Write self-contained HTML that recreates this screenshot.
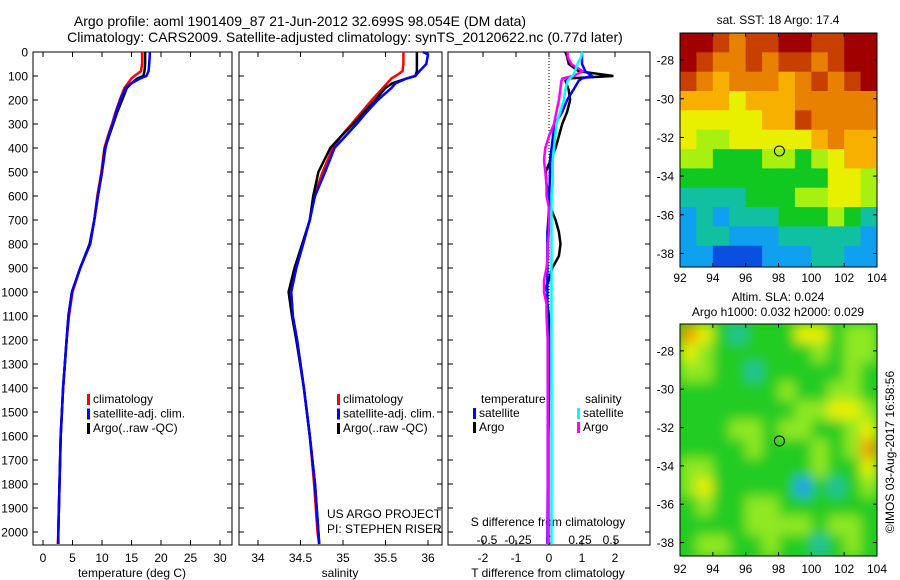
<!DOCTYPE html>
<html><head><meta charset="utf-8">
<style>
html,body{margin:0;padding:0;background:#fff;width:900px;height:580px;overflow:hidden}
svg{display:block;font-family:"Liberation Sans",sans-serif}
</style></head>
<body>
<svg id="fig" width="900" height="580" viewBox="0 0 900 580" xmlns="http://www.w3.org/2000/svg">
<defs>
<filter id="blur" x="-5%" y="-5%" width="110%" height="110%"><feGaussianBlur stdDeviation="6"/></filter>
<clipPath id="clipSla"><rect x="680" y="324" width="197" height="232"/></clipPath>
</defs>
<text x="300" y="26" font-size="14" text-anchor="middle">Argo profile: aoml 1901409_87 21-Jun-2012 32.699S 98.054E (DM data)</text>
<text x="345" y="42" font-size="14" text-anchor="middle">Climatology: CARS2009. Satellite-adjusted climatology: synTS_20120622.nc (0.77d later)</text>
<g id="g"></g>
</svg>
<script>
// ---- data ----
const depths=[0,10,50,80,100,110,130,150,200,250,300,350,400,500,600,700,800,900,1000,1100,1200,1400,1600,1800,2000,2050];
const tempArgo=[17.3,17.3,17.3,17.2,17.0,16.0,15.0,14.2,13.4,12.6,11.9,11.2,10.5,10.0,9.3,8.7,7.9,6.3,4.9,4.3,4.0,3.4,3.0,2.8,2.6,2.6];
const tempSat=[18.1,18.1,18.0,17.9,17.5,16.5,15.0,14.0,13.1,12.4,11.8,11.1,10.6,10.0,9.3,8.7,8.0,6.3,4.9,4.3,4.0,3.4,3.0,2.8,2.6,2.6];
const tempClim=[16.8,16.8,16.8,16.6,15.5,15.0,14.4,13.8,13.0,12.3,11.7,11.0,10.4,9.9,9.2,8.7,8.0,6.3,5.0,4.4,4.0,3.4,3.0,2.8,2.6,2.5];
const salArgo=[35.87,35.87,35.87,35.87,35.85,35.75,35.58,35.50,35.38,35.25,35.12,34.98,34.85,34.71,34.65,34.61,34.52,34.43,34.36,34.40,34.45,34.54,34.61,34.67,34.71,34.72];
const salSat=[35.94,36.0,35.98,35.9,35.85,35.75,35.62,35.57,35.41,35.28,35.16,35.03,34.9,34.79,34.67,34.61,34.53,34.45,34.39,34.41,34.46,34.54,34.61,34.67,34.71,34.72];
const salClim=[35.71,35.71,35.71,35.70,35.62,35.57,35.52,35.47,35.34,35.22,35.10,34.98,34.88,34.76,34.66,34.61,34.53,34.45,34.39,34.41,34.46,34.54,34.61,34.66,34.70,34.72];
const diffDepths=[0,20,50,80,100,110,120,160,200,250,300,350,400,450,500,550,600,650,700,750,800,850,900,950,1000,1050,1100,1200,1400,1600,1800,2000,2050];
const tDiffArgo=[0.5,0.55,0.6,0.9,1.95,0.6,0.5,0.6,0.64,0.55,0.4,0.3,0.2,0.05,-0.1,-0.08,0,0.05,0.2,0.3,0.35,0.3,0.1,0.0,-0.15,-0.05,0,0,0,-0.02,-0.02,-0.02,-0.02];
const tDiffSat=[1.0,1.0,1.0,1.1,1.3,1.0,0.9,0.73,0.55,0.4,0.18,0.12,0.08,0.03,0.03,0.02,0.0,0.0,-0.02,-0.05,-0.05,-0.05,-0.05,-0.05,-0.05,-0.05,-0.05,-0.04,-0.04,-0.04,-0.04,-0.05,-0.05];
const sDiffArgo=[0.15,0.15,0.18,0.27,0.2,0.11,0.1,0.09,0.08,0.06,0.04,0.0,-0.03,-0.04,-0.03,-0.02,-0.02,0,0,0,-0.01,-0.01,-0.02,-0.04,-0.04,-0.02,-0.02,-0.01,-0.01,-0.01,-0.01,-0.01,-0.01];
const sDiffSat=[0.27,0.26,0.23,0.21,0.19,0.17,0.15,0.13,0.12,0.09,0.06,0.05,0.04,0.03,0.03,0.03,0.02,0.02,0.02,0.02,0.02,0.02,0.02,0.02,0.02,0.02,0.02,0.02,0.02,0.02,0.02,0.02,0.02];
const depthTicks=[0,100,200,300,400,500,600,700,800,900,1000,1100,1200,1300,1400,1500,1600,1700,1800,1900,2000];
const tempTicks=[0,5,10,15,20,25,30];
const salTicks=[34,34.5,35,35.5,36];
const salTickLabels=["34","34.5","35","35.5","36"];
const tDiffTicks=[-2,-1,0,1,2];
const sDiffTicks=[-0.5,-0.25,0,0.25,0.5];
const sDiffTickLabels=["-0.5","-0.25","0","0.25","0.5"];
const lonTicks=[92,94,96,98,100,102,104];
const latTicks=[-28,-30,-32,-34,-36,-38];
const argoLon=98.054, argoLat=-32.699;
// SST grid (0=cold..9=warm), rows north->south, 1 deg cells from 92E
const sstGrid=["998788998899","987787887899","876777678789","666566677777","555556687777","544555556766","443334434566","333333333554","222233344554","121222333432","122111222221","110001112211"];
// SLA grid (1=low..6=high)
const slaGrid=["653233355344","543333334344","443323333343","333333433443","333333344554","333443443345","333343334346","443333334335","453333313234","343344333333","333344443443","344334332343"];

// ---- helpers ----
const NS="http://www.w3.org/2000/svg";
const G=document.getElementById('g');
function mk(tag,attrs,parent){const e=document.createElementNS(NS,tag);for(const k in attrs)e.setAttribute(k,attrs[k]);(parent||G).appendChild(e);return e;}
function txt(x,y,s,size,anchor,parent){const e=mk('text',{x:x,y:y,'font-size':size||12,'text-anchor':anchor||'middle'},parent);e.textContent=s;return e;}

const TOP=52, PBOT=545;
function yD(d){return TOP+d*0.24;}
const panels=[
 {name:'temperature-panel',x0:33,x1:232,xs:v=>43+5.9*v},
 {name:'salinity-panel',x0:239,x1:442,xs:v=>258+85*(v-34)},
 {name:'difference-panel',x0:448,x1:650,xs:v=>549+33*v}
];
const sx=v=>549+124*v;

panels.forEach((p,i)=>{
  const grp=mk('g',{});
  
  
  const r=mk('rect',{x:p.x0,y:TOP,width:p.x1-p.x0,height:PBOT-TOP,fill:'none',stroke:'#000','stroke-width':1},grp);
  
  
  depthTicks.forEach(d=>{
    mk('line',{x1:p.x0,x2:p.x0+5,y1:yD(d),y2:yD(d),stroke:'#000'},grp);
    mk('line',{x1:p.x1,x2:p.x1-5,y1:yD(d),y2:yD(d),stroke:'#000'},grp);
  });
});
depthTicks.forEach(d=>{const t=txt(28,yD(d)+4.5,String(d),12,'end');});

function xTicks(p,vals,labels,fn,ly){
  vals.forEach((v,i)=>{
    const x=fn(v);
    mk('line',{x1:x,x2:x,y1:TOP,y2:TOP+5,stroke:'#000'});
    mk('line',{x1:x,x2:x,y1:PBOT,y2:PBOT-5,stroke:'#000'});
    if(labels){const t=txt(x,ly,labels[i],12);}
  });
}
xTicks(panels[0],tempTicks,tempTicks.map(String),panels[0].xs,562);
xTicks(panels[1],salTicks,salTickLabels,panels[1].xs,562);
xTicks(panels[2],tDiffTicks,tDiffTicks.map(String),panels[2].xs,562);
sDiffTicks.forEach((v,i)=>{const t=txt(sx(v),544,sDiffTickLabels[i],12);});

let t;
t=txt(132,577,'temperature (deg C)',12);
t=txt(340,577,'salinity',12);
t=txt(548,577,'T difference from climatology',12);
t=txt(548,526,'S difference from climatology',12);
t=txt(327,518,'US ARGO PROJECT',12,'start');
t=txt(327,533,'PI: STEPHEN RISER',12,'start');

const zl=mk('line',{x1:549,x2:549,y1:TOP,y2:PBOT,stroke:'#000','stroke-dasharray':'1,2'});



function line(ds,vals,fn,color,name){
  const pts=vals.map((v,i)=>fn(v).toFixed(1)+','+yD(ds[i]).toFixed(1)).join(' ');
  const e=mk('polyline',{points:pts,fill:'none',stroke:color,'stroke-width':2.5,'stroke-linejoin':'miter'});
  
  
}
line(depths,tempClim,panels[0].xs,'#f00','temp-climatology-line');
line(depths,tempArgo,panels[0].xs,'#000','temp-argo-line');
line(depths,tempSat,panels[0].xs,'#00f','temp-satellite-line');
line(depths,salClim,panels[1].xs,'#f00','sal-climatology-line');
line(depths,salArgo,panels[1].xs,'#000','sal-argo-line');
line(depths,salSat,panels[1].xs,'#00f','sal-satellite-line');
line(diffDepths,tDiffArgo,panels[2].xs,'#000','t-diff-argo-line');
line(diffDepths,tDiffSat,panels[2].xs,'#00f','t-diff-satellite-line');
line(diffDepths,sDiffArgo,sx,'#f0f','s-diff-argo-line');
line(diffDepths,sDiffSat,sx,'#0ff','s-diff-satellite-line');

function legend(x,y,color,label){
  mk('rect',{x:x,y:y-9,width:3,height:11,fill:color});
  const e=txt(x+6,y,label,12,'start');
  
  
}
[[87,'#f00','climatology'],[87,'#00f','satellite-adj. clim.'],[87,'#000','Argo(..raw -QC)']].forEach((l,i)=>legend(l[0],403+i*14.5,l[1],l[2]));
[[337,'#f00','climatology'],[337,'#00f','satellite-adj. clim.'],[337,'#000','Argo(..raw -QC)']].forEach((l,i)=>legend(l[0],403+i*14.5,l[1],l[2]));
t=txt(481,403,'temperature',12,'start');
t=txt(585,403,'salinity',12,'start');
legend(473,417,'#00f','satellite');legend(473,431,'#000','Argo');
legend(577,417,'#0ff','satellite');legend(577,431,'#f0f','Argo');

// ---- maps ----
const sstColors=['#0a50e0','#10a0f0','#10c0a0','#10c820','#a8f010','#e8f000','#f8b000','#e88000','#c84000','#a00000'];
const slaColors=['#0a50e0','#20a0f0','#20c0a0','#22cc22','#90e820','#e8f000','#f0a000'];
function map(y0,y1,grid,colors,name,lab,smooth){
  const x0=680,x1=877;
  const lx=v=>x0+(v-92)*(x1-x0)/12;
  const latTop=-26.6, latBot=-38.7;
  const ly=v=>y0+(latTop-v)*(y1-y0)/(latTop-latBot);
  const grp=mk('g',{});
  
  
  let cg=grp;
  if(smooth){
    const outer=mk('g',{'clip-path':'url(#clipSla)'},grp);
    mk('rect',{x:x0,y:y0,width:x1-x0,height:y1-y0,fill:colors[3]},outer);
    cg=mk('g',{filter:'url(#blur)'},outer);
  }
  grid.forEach((row,r)=>{
    for(let c=0;c<row.length;c++){
      const la=latTop-r;
      const yb=r===grid.length-1?y1:ly(la-1);
      const cell=mk('rect',{x:lx(92+c),y:ly(la),width:lx(93+c)-lx(92+c)+0.5,height:yb-ly(la)+0.5,fill:colors[+row[c]]},cg);
      
      
    }
  });
  mk('rect',{x:x0,y:y0,width:x1-x0,height:y1-y0,fill:'none',stroke:'#000'},grp);
  lonTicks.forEach(v=>{
    mk('line',{x1:lx(v),x2:lx(v),y1:y1,y2:y1-4,stroke:'#000'},grp);
    mk('line',{x1:lx(v),x2:lx(v),y1:y0,y2:y0+4,stroke:'#000'},grp);
    const e=txt(lx(v),lab,String(v),12,'middle',grp);
    
    
  });
  latTicks.forEach(v=>{
    mk('line',{x1:x0,x2:x0+4,y1:ly(v),y2:ly(v),stroke:'#000'},grp);
    mk('line',{x1:x1,x2:x1-4,y1:ly(v),y2:ly(v),stroke:'#000'},grp);
    const e=txt(x0-6,ly(v)+4.5,String(v),12,'end',grp);
    
    
  });
  const m=mk('circle',{cx:lx(argoLon),cy:ly(argoLat),r:5,fill:'none',stroke:'#000'},grp);
  
  
}
map(33,267,sstGrid,sstColors,'sst-map',282,false);
map(324,556,slaGrid,slaColors,'sla-map',573,true);
t=txt(778,24,'sat. SST: 18 Argo: 17.4',12);
t=txt(778,301,'Altim. SLA: 0.024',12);
t=txt(778,316,'Argo h1000: 0.032 h2000: 0.029',12);
t=txt(0,0,'\u00A9IMOS 03-Aug-2017 16:58:56',12,'middle');
t.setAttribute('transform','translate(894,452) rotate(-90)');


</script>
</body></html>
